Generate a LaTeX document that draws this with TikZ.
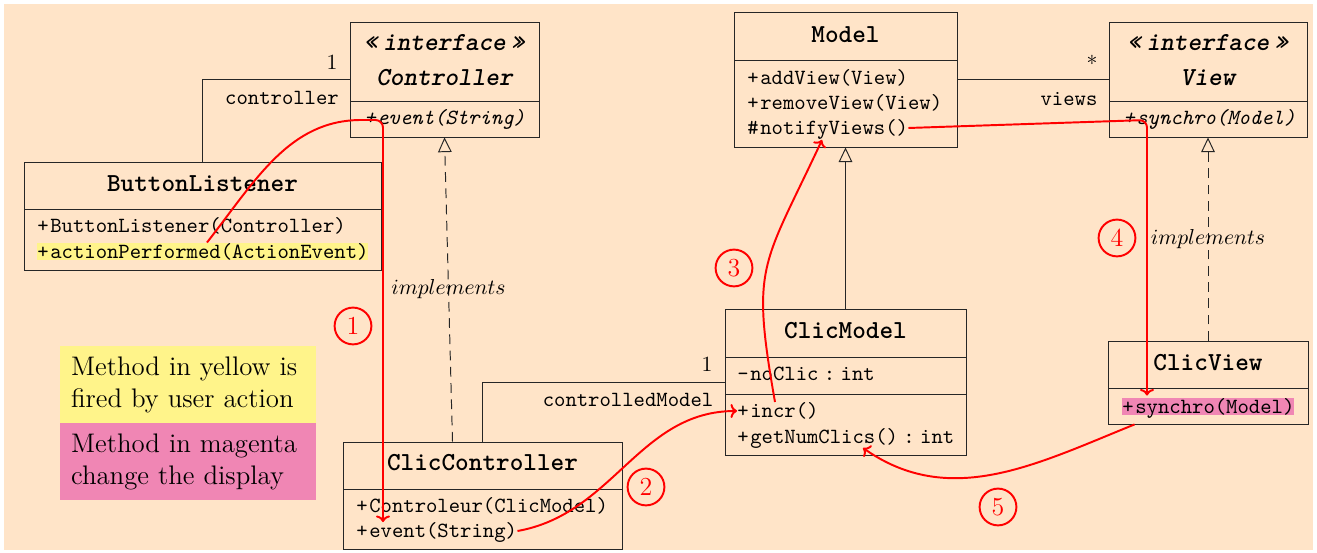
\documentclass[tikz,border=0pt]{standalone}
\usepackage{fontspec}
\setmonofont{lmmono10-regular.otf}[
  BoldFont=lmmonolt10-bold.otf,
  ItalicFont=lmmono10-italic.otf,
  BoldItalicFont=lmmonolt10-boldoblique.otf]
\usetikzlibrary{arrows.meta,calc,fit}
\definecolor{bgcol}{RGB}{255,228,200}
\definecolor{hlyellow}{RGB}{255,244,138}
\definecolor{hlmagenta}{RGB}{240,134,180}
\newcommand\colsep{\hspace{0.25em}:\hspace{0.25em}}
\newcommand\vis[1]{#1\kern0.7pt}
\newcommand\stereotype{«\kern2.5pt interface\kern2.5pt»}
\begin{document}
\begin{tikzpicture}[x=0.462pt,y=0.462pt,
  part/.style={draw=black!85, line width=0.45pt, fit={#1}, inner sep=0pt},
  whole/.style={fit={#1}, inner sep=0pt},
  cname/.style={font=\large\ttfamily\bfseries, inner sep=0pt},
  stereo/.style={font=\large\ttfamily\bfseries\itshape, inner sep=0pt},
  mem/.style={anchor=west, inner sep=0pt, text height=7pt, text depth=0.9pt, font=\ttfamily},
  lbl/.style={font=\ttfamily, inner sep=0pt},
  assoc/.style={draw=black!85, line width=0.45pt},
  realize/.style={draw=black!85, line width=0.45pt, dash pattern=on 4.5pt off 3pt,
    -{Triangle[open, length=6.8pt, width=6.3pt]}},
  inherit/.style={draw=black!85, line width=0.45pt,
    -{Triangle[open, length=6.8pt, width=6.3pt]}},
  flow/.style={draw=red, line width=0.9pt, -{To[length=3pt, width=6.5pt]}},
  numc/.style={circle, draw=red, line width=0.9pt, text=red, font=\large,
    minimum size=17pt, inner sep=0pt},
  legend/.style={anchor=north west, minimum width=118.3pt, minimum height=35.6pt,
    text width=108.5pt, inner xsep=4.9pt, inner ysep=0pt, align=left,
    font=\fontsize{12.4pt}{14.8pt}\selectfont}]

% canvas
\useasboundingbox (0,0) rectangle (1317,-553);
\fill[bgcol] (4,-4) rectangle (1313,-550);

% ---------- interface Controller ----------
\node[whole={(350,-22) (539,-137)}] (ctrl) {};
\node[part={(350,-22) (539,-101)}] (ctrl-h) {};
\node[part={(350,-101) (539,-137)}] (ctrl-o) {};
\node[stereo] (ctrl-st) at (444.5,-43) {\stereotype};
\node[stereo] (ctrl-name) at (444.5,-78) {Controller};
\node[mem] (ctrl-ev) at (364,-118) {\itshape \vis{+}event(String)};

% ---------- ButtonListener ----------
\node[whole={(24,-162) (381,-270)}] (bl) {};
\node[part={(24,-162) (381,-209)}] (bl-h) {};
\node[part={(24,-209) (381,-270)}] (bl-o) {};
\node[cname] (bl-name) at (202.5,-184) {ButtonListener};
\node[mem] (bl-ctor) at (37,-226) {\vis{+}ButtonListener(Controller)};
\node[mem, fill=hlyellow] (bl-act) at (37,-251.5) {\vis{+}actionPerformed(ActionEvent)};

% ---------- Model ----------
\node[whole={(734,-12) (957,-147)}] (md) {};
\node[part={(734,-12) (957,-60)}] (md-h) {};
\node[part={(734,-60) (957,-147)}] (md-o) {};
\node[cname] (md-name) at (845.5,-35) {Model};
\node[mem] (md-add) at (747,-78) {\vis{+}addView(View)};
\node[mem] (md-rem) at (747,-103) {\vis{+}removeView(View)};
\node[mem] (md-notify) at (747,-128) {\vis{\#}notifyViews()};

% ---------- interface View ----------
\node[whole={(1109,-22) (1307,-137)}] (vw) {};
\node[part={(1109,-22) (1307,-101)}] (vw-h) {};
\node[part={(1109,-101) (1307,-137)}] (vw-o) {};
\node[stereo] (vw-st) at (1208,-43) {\stereotype};
\node[stereo] (vw-name) at (1208,-78) {View};
\node[mem] (vw-syn) at (1123,-118) {\itshape \vis{+}synchro(Model)};

% ---------- ClicModel ----------
\node[whole={(725,-309) (966,-455)}] (cm) {};
\node[part={(725,-309) (966,-357)}] (cm-h) {};
\node[part={(725,-357) (966,-394)}] (cm-a) {};
\node[part={(725,-394) (966,-455)}] (cm-o) {};
\node[cname] (cm-name) at (845.5,-331) {ClicModel};
\node[mem] (cm-noclic) at (737,-374) {\vis{-}noClic\colsep int};
\node[mem] (cm-incr) at (737,-411) {\vis{+}incr()};
\node[mem] (cm-num) at (737,-437) {\vis{+}getNumClics()\colsep int};

% ---------- ClicView ----------
\node[whole={(1108,-341) (1308,-424)}] (cv) {};
\node[part={(1108,-341) (1308,-388)}] (cv-h) {};
\node[part={(1108,-388) (1308,-424)}] (cv-o) {};
\node[cname] (cv-name) at (1208,-363) {ClicView};
\node[mem, fill=hlmagenta] (cv-syn) at (1122,-406.5) {\vis{+}synchro(Model)};

% ---------- ClicController ----------
\node[whole={(343,-442) (622,-549)}] (cc) {};
\node[part={(343,-442) (622,-489)}] (cc-h) {};
\node[part={(343,-489) (622,-549)}] (cc-o) {};
\node[cname] (cc-name) at (482.5,-463) {ClicController};
\node[mem] (cc-ctor) at (356,-506) {\vis{+}Controleur(ClicModel)};
\node[mem] (cc-ev) at (356,-531) {\vis{+}event(String)};

% ---------- relations ----------
\draw[assoc] (bl.north) |- (ctrl.west);
\node (m-ctrl) at (332,-62) {1};
\node[lbl] (r-ctrl) at (282,-98) {controller};

\draw[assoc] (md.east) -- (vw.west);
\node (m-views) at (1092,-63) {*};
\node[lbl] (r-views) at (1069,-99) {views};

\draw[assoc] (cc.north) |- (cm.west);
\node (m-model) at (707,-364) {1};
\node[lbl] (r-model) at (628,-400) {controlledModel};

\draw[realize] ($(cc.north)+(-30,0)$) -- (ctrl.south)
  node[midway, inner sep=0pt] (impl-ctrl) {$implements$};
\draw[realize] (cv.north) -- (vw.south)
  node[midway, inner sep=0pt] (impl-view) {$implements$};
\draw[inherit] (cm.north) -- (md.south);

% ---------- legend ----------
\node[legend, fill=hlyellow] (leg-user) at (60,-346) {Method in yellow is\\fired by user action};
\node[legend, fill=hlmagenta] (leg-disp) at (60,-423) {Method in magenta\\change the display};

% ---------- call sequence ----------
\draw[flow, rounded corners=3.5pt]
  ($(bl-act.north west)+(170,0)$) to[out=52,in=180] ($(ctrl-ev.west)+(5,-2)$)
  -| ($(cc-ev.north west)+(27,0)$);
\draw[flow] (cc-ev.east) to[out=10,in=180] (cm-incr.west);
\draw[flow] ($(cm-incr.north west)+(38,0)$) to[out=100,in=245,looseness=1.35] ($(md-notify.south west)+(75,-3)$);
\draw[flow, rounded corners=3.5pt]
  (md-notify.east) -- ($(vw-syn.west)+(24,-2)$) -- ($(cv-syn.north west)+(25,2)$);
\draw[flow] ($(cv.south west)+(27,0)$) to[out=202,in=-35] ($(cm-num.south west)+(126,-2)$);

\node[numc] (n1) at (353,-326) {1};
\node[numc] (n2) at (646,-487) {2};
\node[numc] (n3) at (734,-268) {3};
\node[numc] (n4) at (1117,-238) {4};
\node[numc] (n5) at (998,-507) {5};
\end{tikzpicture}
\end{document}
